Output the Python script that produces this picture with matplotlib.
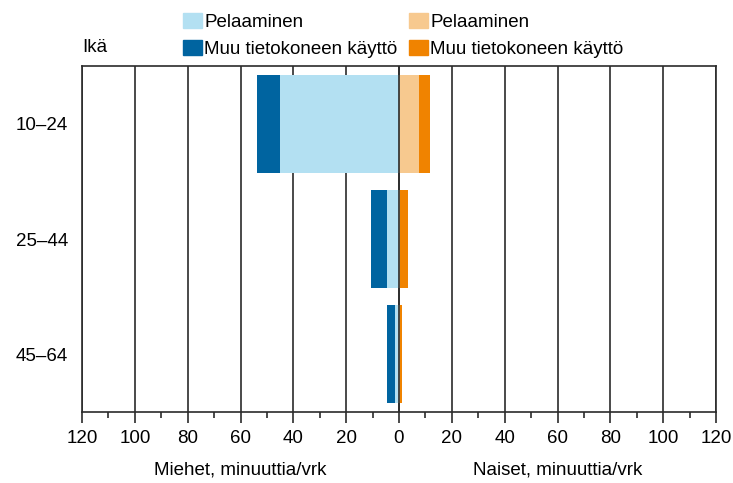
import matplotlib
matplotlib.use("Agg")
import matplotlib.pyplot as plt
import matplotlib.transforms as mtransforms
from matplotlib.patches import Patch
from matplotlib.ticker import MultipleLocator, FuncFormatter

plt.rcParams['font.family'] = ['Liberation Sans', 'DejaVu Sans']

# data (minutes per day)
ages = ["10–24", "25–44", "45–64"]
men_gaming = [45.2, 4.5, 1.7]
men_other = [8.7, 6.0, 3.0]
women_gaming = [7.4, 0.5, 0.3]
women_other = [4.5, 3.0, 1.0]

c_lblue = "#b3e0f2"
c_dblue = "#0064a0"
c_lorange = "#f7c98f"
c_orange = "#f08300"
c_line = "#2b2b2b"
fs = 13.5

fig = plt.figure(figsize=(7.33, 4.83), dpi=100)
ax = fig.add_axes([82 / 733, 1 - 412 / 483, (716 - 82) / 733, (412 - 66) / 483])

ypos = list(range(len(ages)))
h = 0.85
men_total = [g + o for g, o in zip(men_gaming, men_other)]
women_total = [g + o for g, o in zip(women_gaming, women_other)]

ax.barh(ypos, [-t for t in men_total], height=h, color=c_dblue, zorder=3)
ax.barh(ypos, [-g for g in men_gaming], height=h, color=c_lblue, zorder=4)
ax.barh(ypos, women_total, height=h, color=c_orange, zorder=3)
ax.barh(ypos, women_gaming, height=h, color=c_lorange, zorder=4)
ax.axvline(0, color=c_line, lw=1.2, zorder=5)

ax.set_xlim(-120, 120)
ax.set_ylim(2.5, -0.5)
ax.xaxis.set_major_locator(MultipleLocator(20))
ax.xaxis.set_minor_locator(MultipleLocator(10))
ax.xaxis.set_major_formatter(FuncFormatter(lambda v, p: "%d" % abs(v)))
ax.grid(axis='x', which='major', color=c_line, lw=1.2, zorder=0)
ax.set_yticks(ypos)
ax.set_yticklabels(ages)
ax.tick_params(axis='y', length=0, pad=10, labelsize=fs)
ax.tick_params(axis='x', which='major', length=8, width=1.2, color=c_line,
               pad=5, labelsize=fs)
ax.tick_params(axis='x', which='minor', length=4.5, width=1.2, color=c_line)
for s in ax.spines.values():
    s.set_color(c_line)
    s.set_linewidth(1.2)

trans = mtransforms.blended_transform_factory(ax.transData, fig.transFigure)
ax.text(-60, 1 - 470 / 483, "Miehet, minuuttia/vrk", transform=trans,
        ha='center', va='center', fontsize=fs)
ax.text(60, 1 - 470 / 483, "Naiset, minuuttia/vrk", transform=trans,
        ha='center', va='center', fontsize=fs)
fig.text(82 / 733, 1 - 48 / 483, "Ikä", ha='left', va='center', fontsize=fs)

handles = [Patch(color=c_lblue, label="Pelaaminen"),
           Patch(color=c_dblue, label="Muu tietokoneen käyttö"),
           Patch(color=c_lorange, label="Pelaaminen"),
           Patch(color=c_orange, label="Muu tietokoneen käyttö")]
fig.legend(handles=handles, ncol=2, loc='upper left',
           bbox_to_anchor=(179 / 733, 1 - 9 / 483), frameon=False,
           fontsize=fs, handlelength=1.0, handleheight=0.85,
           handletextpad=0.15, columnspacing=0.6, labelspacing=0.5,
           borderaxespad=0, borderpad=0.2)

fig.savefig("out.png", dpi=100)
